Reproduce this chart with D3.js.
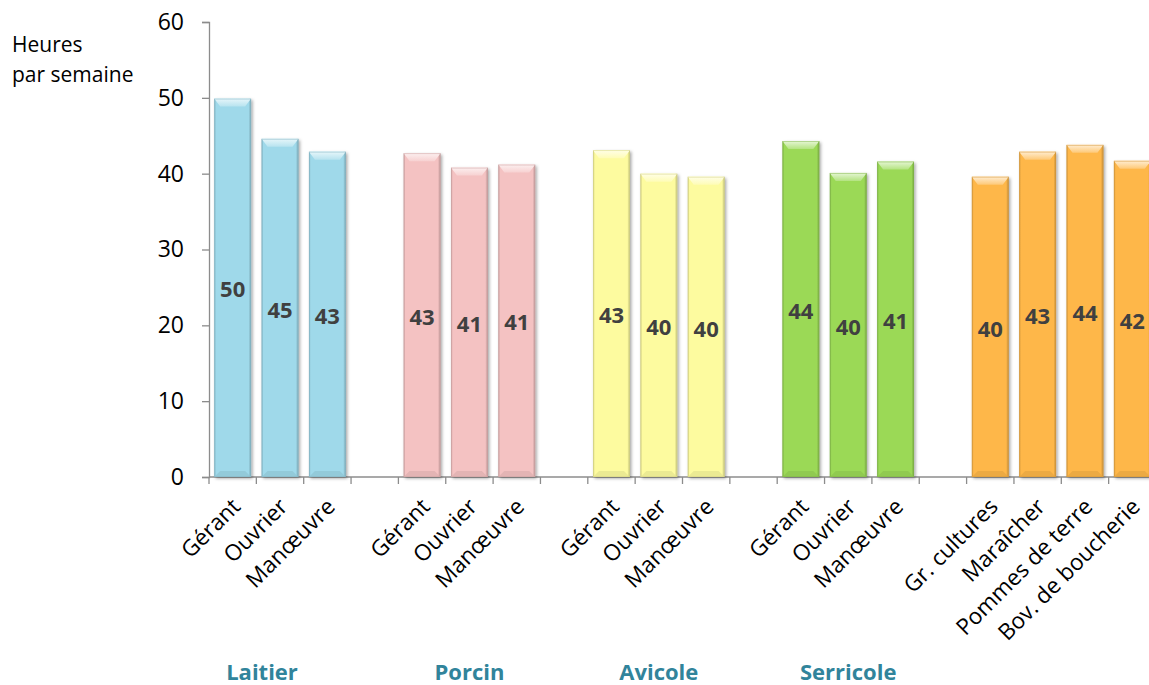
<!DOCTYPE html>
<html><head><meta charset="utf-8">
<script src="https://cdn.jsdelivr.net/npm/d3@7"></script>
<style>
html,body{margin:0;padding:0;background:#fff;}
svg{display:block;font-family:"Open Sans","Noto Sans",sans-serif;}
</style></head>
<body>
<svg id="chart" width="1149" height="685"></svg>
<script>
// ---- data ----
const categories = ["Gérant","Ouvrier","Manœuvre","gap1","Gérant ","Ouvrier ","Manœuvre ","gap2","Gérant  ","Ouvrier  ","Manœuvre  ","gap3","Gérant   ","Ouvrier   ","Manœuvre   ","gap4","Gr. cultures","Maraîcher","Pommes de terre","Bov. de boucherie"];
const values = [49.9,44.6,42.9,null,42.7,40.8,41.2,null,43.1,40.0,39.6,null,44.3,40.1,41.6,null,39.6,42.9,43.8,41.7];
const dataLabels = ["50","45","43","","43","41","41","","43","40","40","","44","40","41","","40","43","44","42"];
const groupOf = [0,0,0,-1,1,1,1,-1,2,2,2,-1,3,3,3,-1,4,4,4,4];
const groupNames = ["Laitier","Porcin","Avicole","Serricole"];
const groupAnchor = ["Ouvrier","Ouvrier ","Ouvrier  ","Ouvrier   "];
const groupColors = ["#9fd9ea","#f4c2c2","#fdfb9f","#9bd957","#feb749"];
const yTicks = [0,10,20,30,40,50,60];

// ---- layout ----
const W = 1149, H = 685;
const svg = d3.select("#chart");
const x = d3.scaleBand().domain(categories).range([209, 1156]).paddingInner(0.22).paddingOuter(0.11);
const y = d3.scaleLinear().domain([0,60]).range([477, 22]);
const step = x.step();

const defs = svg.append("defs");
const f = defs.append("filter").attr("id","shadow").attr("x","-20%").attr("y","-10%").attr("width","140%").attr("height","120%");
f.append("feDropShadow").attr("dx",1.5).attr("dy",1.5).attr("stdDeviation",1.6).attr("flood-color","#000").attr("flood-opacity",0.35);

groupColors.forEach((c,i)=>{
  const gH = defs.append("linearGradient").attr("id","gh"+i).attr("x1",0).attr("x2",1).attr("y1",0).attr("y2",0);
  gH.append("stop").attr("offset","0%").attr("stop-color",d3.color(c).darker(0.6));
  gH.append("stop").attr("offset","5%").attr("stop-color",c);
  gH.append("stop").attr("offset","93%").attr("stop-color",c);
  gH.append("stop").attr("offset","100%").attr("stop-color",d3.color(c).darker(0.8));
  const gT = defs.append("linearGradient").attr("id","gt"+i).attr("x1",0).attr("x2",0).attr("y1",0).attr("y2",1);
  gT.append("stop").attr("offset","0%").attr("stop-color",d3.interpolateRgb(c,"#fff")(0.75));
  gT.append("stop").attr("offset","100%").attr("stop-color",d3.interpolateRgb(c,"#fff")(0.25));
});

// y axis
const yAxis = d3.axisLeft(y).tickValues(yTicks).tickSize(7).tickPadding(18);
const gy = svg.append("g").attr("transform","translate(209,0)").call(yAxis);
gy.select(".domain").attr("stroke","#8c8c8c").attr("stroke-width",1.3);
gy.selectAll(".tick line").attr("stroke","#8c8c8c").attr("stroke-width",1.3);
gy.selectAll(".tick text").attr("font-size",23).attr("fill","#000").attr("font-family","'Open Sans',sans-serif");

// x axis baseline and ticks at band boundaries
const xg = svg.append("g");
xg.append("line").attr("x1",209).attr("x2",W).attr("y1",y(0)).attr("y2",y(0)).attr("stroke","#8c8c8c").attr("stroke-width",1.3);
xg.selectAll("line.t").data(categories).join("line").attr("class","t")
  .attr("x1",d=>x(d)-(step-x.bandwidth())/2).attr("x2",d=>x(d)-(step-x.bandwidth())/2)
  .attr("y1",y(0)).attr("y2",y(0)+7).attr("stroke","#8c8c8c").attr("stroke-width",1.3);

// bars
const bw = x.bandwidth();
const bev = 6;
const bars = svg.append("g").selectAll("g.bar").data(categories.map((c,i)=>({c,v:values[i],g:groupOf[i],l:dataLabels[i]})).filter(d=>d.v!=null))
  .join("g").attr("class","bar");
bars.append("rect").attr("x",d=>x(d.c)).attr("y",d=>y(d.v)).attr("width",bw).attr("height",d=>y(0)-y(d.v))
  .attr("fill",d=>`url(#gh${d.g})`).attr("filter","url(#shadow)");
bars.append("path").attr("d",d=>{const x0=x(d.c),x1=x0+bw,t=y(d.v);return `M${x0},${t}L${x1},${t}L${x1-bev},${t+bev+2}L${x0+bev},${t+bev+2}Z`;})
  .attr("fill",d=>`url(#gt${d.g})`);
bars.append("path").attr("d",d=>{const x0=x(d.c),x1=x0+bw,b=y(0);return `M${x0},${b}L${x1},${b}L${x1-bev},${b-bev}L${x0+bev},${b-bev}Z`;})
  .attr("fill",d=>d3.color(groupColors[d.g]).darker(0.3)).attr("opacity",0.7);
bars.append("rect").attr("x",d=>x(d.c)+0.5).attr("y",d=>y(d.v)+0.5).attr("width",bw-1).attr("height",d=>y(0)-y(d.v)-1)
  .attr("fill","none").attr("stroke",d=>d3.color(groupColors[d.g]).darker(0.5)).attr("stroke-width",0.8).attr("opacity",0.6);

// value labels
bars.append("text").attr("x",d=>x(d.c)+bw/2).attr("y",d=>(y(d.v)+y(0))/2+2).attr("dy","0.35em")
  .attr("text-anchor","middle").attr("font-size",22).attr("font-weight","bold").attr("fill","#404040")
  .text(d=>d.l);

// category labels rotated
svg.append("g").selectAll("text").data(categories.filter(c=>!c.startsWith("gap"))).join("text")
  .attr("transform",d=>`translate(${x(d)+bw/2+9},${y(0)+31}) rotate(-45)`)
  .attr("text-anchor","end").attr("font-size",22.5).attr("fill","#000").text(d=>d.trim());

// group labels
const groupOffset = [-18,0,0,0];
svg.append("g").selectAll("text").data(groupNames).join("text")
  .attr("x",(d,i)=>x(groupAnchor[i])+bw/2+groupOffset[i]).attr("y",680)
  .attr("text-anchor","middle").attr("font-size",22).attr("font-weight","bold").attr("fill","#31849b").text(d=>d);

// y axis title
const yt = svg.append("text").attr("font-size",21).attr("fill","#000");
yt.append("tspan").attr("x",12).attr("y",52).text("Heures");
yt.append("tspan").attr("x",12).attr("y",82).text("par semaine");
</script>
</body></html>
